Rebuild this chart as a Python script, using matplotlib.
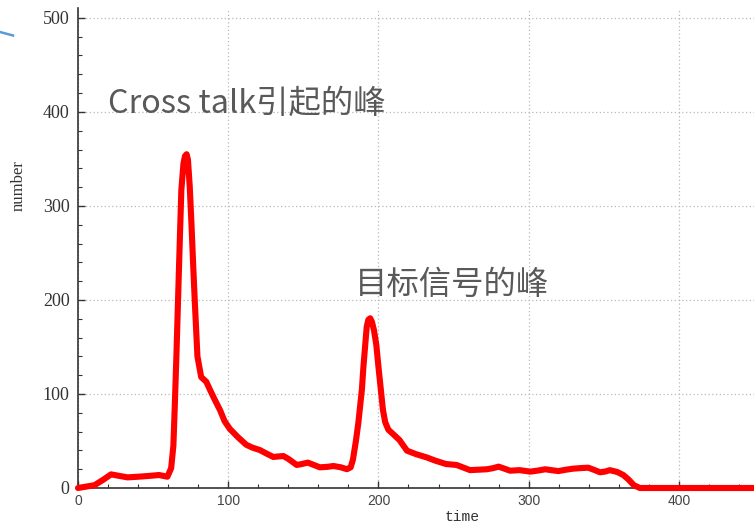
import matplotlib
matplotlib.use("Agg")
import matplotlib.pyplot as plt
from matplotlib.ticker import MultipleLocator
from matplotlib.lines import Line2D

plt.rcParams['font.family'] = ['Noto Sans CJK SC', 'DejaVu Sans']

# Counts per time bin
time = [0, 11, 17, 22, 27, 33, 40, 47, 54, 59.5, 62, 63.5, 64.4, 65.5, 66.6, 67.8,
        68.8, 70.2, 71.2, 72.3, 73.2, 74.4, 75.5, 76.6, 77.7, 79.5, 82, 85.4, 88, 91,
        94.5, 97.6, 101, 106.5, 112, 116, 121, 125, 130, 133, 136.7, 140, 145.6,
        149, 153, 157, 161, 166, 170, 175, 179, 181.5, 183, 185, 186.6, 189, 190,
        192.2, 193.3, 194.5, 195.6, 197, 198.6, 200, 203, 204.5, 206.6, 210, 214, 219, 225,
        232, 238, 245, 252, 261, 267, 272, 276, 280, 284, 287.6, 294, 301, 306,
        311, 315, 319.8, 325, 329.8, 335, 339.7, 344, 347.5, 351, 354, 359, 363,
        366.5, 370, 374, 400, 450]
number = [0, 3, 9, 14.5, 13, 11.3, 12, 12.8, 13.8, 12, 21, 45, 86, 140, 200, 265,
          317, 345, 353, 355, 349, 320, 282, 240, 200, 140, 118, 113, 104, 94,
          83, 71, 63, 54, 46, 43, 40.4, 37, 33, 33.5, 34, 31, 24.5,
          25.5, 27, 24.5, 22, 22.5, 23.4, 22, 20, 22, 30, 50, 69, 105, 129,
          171.6, 179, 180.5, 177, 168, 152, 129, 83, 70, 62, 57, 51, 39.7, 36,
          32.6, 29, 25.5, 24.5, 19, 19.5, 19.9, 21, 22.7, 20.5, 18.4, 19, 17.4, 18.5,
          19.9, 19, 18, 19.5, 20.6, 21.2, 21.6, 19, 16.7, 17.5, 19, 17, 13.8,
          9, 3, 0, 0, 0]

peak_labels = ["Cross talk引起的峰", "目标信号的峰"]
label_x = [20, 184]
label_y = [408, 216]

fig = plt.figure(figsize=(7.54, 5.29), dpi=100)
ax = fig.add_axes([78 / 754, 1 - 488 / 529, 676 / 754, 480 / 529])

ax.plot(time, number, color='#ff0000', linewidth=4.4, solid_joinstyle='round',
        solid_capstyle='round', clip_on=False, zorder=3)

ax.set_xlim(0, 450)
ax.set_ylim(0, 510.5)

ax.xaxis.set_major_locator(MultipleLocator(100))
ax.xaxis.set_minor_locator(MultipleLocator(20))
ax.yaxis.set_major_locator(MultipleLocator(100))
ax.yaxis.set_minor_locator(MultipleLocator(20))

ax.tick_params(which='major', direction='in', length=5, width=1, color='#333333')
ax.tick_params(which='minor', direction='in', length=3, width=0.8, color='#333333')
ax.tick_params(axis='y', which='major', pad=6)
ax.tick_params(axis='x', which='major', pad=4)

for lbl in ax.get_yticklabels():
    lbl.set_fontfamily('Liberation Serif')
    lbl.set_fontsize(13)
    lbl.set_color('#333333')
for lbl in ax.get_xticklabels():
    lbl.set_fontfamily('Liberation Sans')
    lbl.set_fontsize(10)
    lbl.set_color('#444444')

ax.grid(True, which='major', linestyle=(0, (1, 2)), color='#b8b8b8', linewidth=0.9)
ax.set_axisbelow(True)

for side in ('top', 'right'):
    ax.spines[side].set_visible(False)
for side in ('left', 'bottom'):
    ax.spines[side].set_color('#333333')
    ax.spines[side].set_linewidth(1.2)

ax.set_xlabel('time', fontfamily='Liberation Mono', fontsize=10.5, color='#333333')
ax.xaxis.set_label_coords((462 - 78) / 676, -(510 - 488) / 480)
ax.set_ylabel('number', fontfamily='Liberation Serif', fontsize=12, color='#333333')
ax.yaxis.set_label_coords(-(78 - 27) / 676, (488 - 186) / 480)

for txt, tx, ty in zip(peak_labels, label_x, label_y):
    ax.text(tx, ty, txt, fontsize=23.3, color='#595959', ha='left', va='center',
            family=['Noto Sans CJK SC', 'DejaVu Sans'])

# stray connector stroke at the upper-left margin
fig.add_artist(Line2D([0 / 754, 13 / 754], [1 - 32 / 529, 1 - 35.5 / 529],
                      color='#5b9bd5', linewidth=1.8, transform=fig.transFigure))

fig.savefig('out.png', dpi=100)
